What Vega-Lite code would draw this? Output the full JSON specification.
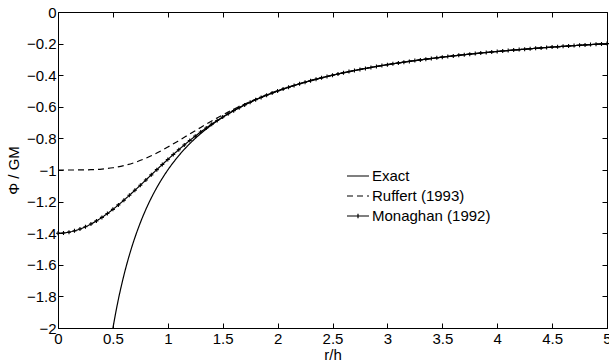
{
 "$schema": "https://vega.github.io/schema/vega-lite/v6.json",
 "width": 549, "height": 316,
 "autosize": "none",
 "padding": {"left": 58, "top": 12, "right": 2, "bottom": 35},
 "background": "white",
 "config": {
  "font": "Liberation Sans",
  "view": {"stroke": "black", "strokeWidth": 1},
  "axis": {"domainColor": "black", "tickColor": "black", "labelColor": "black", "titleColor": "black", "labelFontSize": 15, "titleFontSize": 15, "titleFontWeight": "normal", "grid": false, "tickSize": -5, "domainWidth": 1, "tickWidth": 1}
 },
 "datasets": {
  "curves": [
   {"series":"Exact","r":0.5,"phi":-2},{"series":"Exact","r":0.55,"phi":-1.81818},{"series":"Exact","r":0.6,"phi":-1.66667},{"series":"Exact","r":0.65,"phi":-1.53846},{"series":"Exact","r":0.7,"phi":-1.42857},{"series":"Exact","r":0.75,"phi":-1.33333},{"series":"Exact","r":0.8,"phi":-1.25},{"series":"Exact","r":0.85,"phi":-1.17647},{"series":"Exact","r":0.9,"phi":-1.11111},{"series":"Exact","r":0.95,"phi":-1.05263},{"series":"Exact","r":1.0,"phi":-1},{"series":"Exact","r":1.1,"phi":-0.90909},{"series":"Exact","r":1.2,"phi":-0.83333},{"series":"Exact","r":1.3,"phi":-0.76923},{"series":"Exact","r":1.4,"phi":-0.71429},{"series":"Exact","r":1.5,"phi":-0.66667},{"series":"Exact","r":1.6,"phi":-0.625},{"series":"Exact","r":1.7,"phi":-0.58824},{"series":"Exact","r":1.8,"phi":-0.55556},{"series":"Exact","r":1.9,"phi":-0.52632},{"series":"Exact","r":2.0,"phi":-0.5},{"series":"Exact","r":2.25,"phi":-0.44444},{"series":"Exact","r":2.5,"phi":-0.4},{"series":"Exact","r":2.75,"phi":-0.36364},{"series":"Exact","r":3.0,"phi":-0.33333},{"series":"Exact","r":3.25,"phi":-0.30769},{"series":"Exact","r":3.5,"phi":-0.28571},{"series":"Exact","r":3.75,"phi":-0.26667},{"series":"Exact","r":4.0,"phi":-0.25},{"series":"Exact","r":4.25,"phi":-0.23529},{"series":"Exact","r":4.5,"phi":-0.22222},{"series":"Exact","r":4.75,"phi":-0.21053},{"series":"Exact","r":5.0,"phi":-0.2},
   {"series":"Ruffert (1993)","r":0,"phi":-1},{"series":"Ruffert (1993)","r":0.1,"phi":-0.99998},{"series":"Ruffert (1993)","r":0.2,"phi":-0.99961},{"series":"Ruffert (1993)","r":0.3,"phi":-0.99804},{"series":"Ruffert (1993)","r":0.4,"phi":-0.99398},{"series":"Ruffert (1993)","r":0.5,"phi":-0.9859},{"series":"Ruffert (1993)","r":0.6,"phi":-0.97235},{"series":"Ruffert (1993)","r":0.7,"phi":-0.95233},{"series":"Ruffert (1993)","r":0.8,"phi":-0.92557},{"series":"Ruffert (1993)","r":0.9,"phi":-0.8927},{"series":"Ruffert (1993)","r":1.0,"phi":-0.85502},{"series":"Ruffert (1993)","r":1.1,"phi":-0.81428},{"series":"Ruffert (1993)","r":1.2,"phi":-0.77222},{"series":"Ruffert (1993)","r":1.3,"phi":-0.73039},{"series":"Ruffert (1993)","r":1.4,"phi":-0.68992},{"series":"Ruffert (1993)","r":1.5,"phi":-0.65158},{"series":"Ruffert (1993)","r":1.6,"phi":-0.61577},{"series":"Ruffert (1993)","r":1.7,"phi":-0.58266},{"series":"Ruffert (1993)","r":1.8,"phi":-0.55223},{"series":"Ruffert (1993)","r":1.9,"phi":-0.52436},{"series":"Ruffert (1993)","r":2.0,"phi":-0.49886},{"series":"Ruffert (1993)","r":2.2,"phi":-0.45418},{"series":"Ruffert (1993)","r":2.5,"phi":-0.39994},{"series":"Ruffert (1993)","r":2.75,"phi":-0.36364},{"series":"Ruffert (1993)","r":3.0,"phi":-0.33333},{"series":"Ruffert (1993)","r":3.5,"phi":-0.28571},{"series":"Ruffert (1993)","r":4.0,"phi":-0.25},{"series":"Ruffert (1993)","r":4.5,"phi":-0.22222},{"series":"Ruffert (1993)","r":5.0,"phi":-0.2},
   {"series":"Monaghan (1992)","r":0,"phi":-1.4},{"series":"Monaghan (1992)","r":0.05,"phi":-1.39834},{"series":"Monaghan (1992)","r":0.1,"phi":-1.39336},{"series":"Monaghan (1992)","r":0.15,"phi":-1.38514},{"series":"Monaghan (1992)","r":0.2,"phi":-1.37378},{"series":"Monaghan (1992)","r":0.25,"phi":-1.35941},{"series":"Monaghan (1992)","r":0.3,"phi":-1.34219},{"series":"Monaghan (1992)","r":0.35,"phi":-1.32231},{"series":"Monaghan (1992)","r":0.4,"phi":-1.29999},{"series":"Monaghan (1992)","r":0.45,"phi":-1.27546},{"series":"Monaghan (1992)","r":0.5,"phi":-1.24896},{"series":"Monaghan (1992)","r":0.55,"phi":-1.22075},{"series":"Monaghan (1992)","r":0.6,"phi":-1.1911},{"series":"Monaghan (1992)","r":0.65,"phi":-1.16028},{"series":"Monaghan (1992)","r":0.7,"phi":-1.12856},{"series":"Monaghan (1992)","r":0.75,"phi":-1.09619},{"series":"Monaghan (1992)","r":0.8,"phi":-1.06345},{"series":"Monaghan (1992)","r":0.85,"phi":-1.03057},{"series":"Monaghan (1992)","r":0.9,"phi":-0.99778},{"series":"Monaghan (1992)","r":0.95,"phi":-0.96531},{"series":"Monaghan (1992)","r":1.0,"phi":-0.93333},{"series":"Monaghan (1992)","r":1.05,"phi":-0.90202},{"series":"Monaghan (1992)","r":1.1,"phi":-0.87151},{"series":"Monaghan (1992)","r":1.15,"phi":-0.84191},{"series":"Monaghan (1992)","r":1.2,"phi":-0.81331},{"series":"Monaghan (1992)","r":1.25,"phi":-0.78576},{"series":"Monaghan (1992)","r":1.3,"phi":-0.75932},{"series":"Monaghan (1992)","r":1.35,"phi":-0.73401},{"series":"Monaghan (1992)","r":1.4,"phi":-0.70984},{"series":"Monaghan (1992)","r":1.45,"phi":-0.68682},{"series":"Monaghan (1992)","r":1.5,"phi":-0.66493},{"series":"Monaghan (1992)","r":1.55,"phi":-0.64415},{"series":"Monaghan (1992)","r":1.6,"phi":-0.62445},{"series":"Monaghan (1992)","r":1.65,"phi":-0.60578},{"series":"Monaghan (1992)","r":1.7,"phi":-0.58811},{"series":"Monaghan (1992)","r":1.75,"phi":-0.57138},{"series":"Monaghan (1992)","r":1.8,"phi":-0.55554},{"series":"Monaghan (1992)","r":1.85,"phi":-0.54054},{"series":"Monaghan (1992)","r":1.9,"phi":-0.52632},{"series":"Monaghan (1992)","r":1.95,"phi":-0.51282},{"series":"Monaghan (1992)","r":2.0,"phi":-0.5},{"series":"Monaghan (1992)","r":2.05,"phi":-0.487805},{"series":"Monaghan (1992)","r":2.1,"phi":-0.47619},{"series":"Monaghan (1992)","r":2.15,"phi":-0.465116},{"series":"Monaghan (1992)","r":2.2,"phi":-0.454545},{"series":"Monaghan (1992)","r":2.25,"phi":-0.444444},{"series":"Monaghan (1992)","r":2.3,"phi":-0.434783},{"series":"Monaghan (1992)","r":2.35,"phi":-0.425532},{"series":"Monaghan (1992)","r":2.4,"phi":-0.416667},{"series":"Monaghan (1992)","r":2.45,"phi":-0.408163},{"series":"Monaghan (1992)","r":2.5,"phi":-0.4},{"series":"Monaghan (1992)","r":2.55,"phi":-0.392157},{"series":"Monaghan (1992)","r":2.6,"phi":-0.384615},{"series":"Monaghan (1992)","r":2.65,"phi":-0.377358},{"series":"Monaghan (1992)","r":2.7,"phi":-0.37037},{"series":"Monaghan (1992)","r":2.75,"phi":-0.363636},{"series":"Monaghan (1992)","r":2.8,"phi":-0.357143},{"series":"Monaghan (1992)","r":2.85,"phi":-0.350877},{"series":"Monaghan (1992)","r":2.9,"phi":-0.344828},{"series":"Monaghan (1992)","r":2.95,"phi":-0.338983},{"series":"Monaghan (1992)","r":3.0,"phi":-0.333333},{"series":"Monaghan (1992)","r":3.05,"phi":-0.327869},{"series":"Monaghan (1992)","r":3.1,"phi":-0.322581},{"series":"Monaghan (1992)","r":3.15,"phi":-0.31746},{"series":"Monaghan (1992)","r":3.2,"phi":-0.3125},{"series":"Monaghan (1992)","r":3.25,"phi":-0.307692},{"series":"Monaghan (1992)","r":3.3,"phi":-0.30303},{"series":"Monaghan (1992)","r":3.35,"phi":-0.298507},{"series":"Monaghan (1992)","r":3.4,"phi":-0.294118},{"series":"Monaghan (1992)","r":3.45,"phi":-0.289855},{"series":"Monaghan (1992)","r":3.5,"phi":-0.285714},{"series":"Monaghan (1992)","r":3.55,"phi":-0.28169},{"series":"Monaghan (1992)","r":3.6,"phi":-0.277778},{"series":"Monaghan (1992)","r":3.65,"phi":-0.273973},{"series":"Monaghan (1992)","r":3.7,"phi":-0.27027},{"series":"Monaghan (1992)","r":3.75,"phi":-0.266667},{"series":"Monaghan (1992)","r":3.8,"phi":-0.263158},{"series":"Monaghan (1992)","r":3.85,"phi":-0.25974},{"series":"Monaghan (1992)","r":3.9,"phi":-0.25641},{"series":"Monaghan (1992)","r":3.95,"phi":-0.253165},{"series":"Monaghan (1992)","r":4.0,"phi":-0.25},{"series":"Monaghan (1992)","r":4.05,"phi":-0.246914},{"series":"Monaghan (1992)","r":4.1,"phi":-0.243902},{"series":"Monaghan (1992)","r":4.15,"phi":-0.240964},{"series":"Monaghan (1992)","r":4.2,"phi":-0.238095},{"series":"Monaghan (1992)","r":4.25,"phi":-0.235294},{"series":"Monaghan (1992)","r":4.3,"phi":-0.232558},{"series":"Monaghan (1992)","r":4.35,"phi":-0.229885},{"series":"Monaghan (1992)","r":4.4,"phi":-0.227273},{"series":"Monaghan (1992)","r":4.45,"phi":-0.224719},{"series":"Monaghan (1992)","r":4.5,"phi":-0.222222},{"series":"Monaghan (1992)","r":4.55,"phi":-0.21978},{"series":"Monaghan (1992)","r":4.6,"phi":-0.217391},{"series":"Monaghan (1992)","r":4.65,"phi":-0.215054},{"series":"Monaghan (1992)","r":4.7,"phi":-0.212766},{"series":"Monaghan (1992)","r":4.75,"phi":-0.210526},{"series":"Monaghan (1992)","r":4.8,"phi":-0.208333},{"series":"Monaghan (1992)","r":4.85,"phi":-0.206186},{"series":"Monaghan (1992)","r":4.9,"phi":-0.204082},{"series":"Monaghan (1992)","r":4.95,"phi":-0.20202},{"series":"Monaghan (1992)","r":5.0,"phi":-0.2}
  ]
 },
 "data": {"name": "curves"},
 "resolve": {"axis": {"x": "independent", "y": "independent"}},
 "layer": [
  {
   "mark": {"type": "line", "interpolate": "monotone", "strokeWidth": 1.2, "color": "black", "clip": true},
   "encoding": {
    "x": {"field": "r", "type": "quantitative", "scale": {"domain": [0, 5], "nice": false, "zero": false},
      "axis": {"title": "r/h", "values": [0,0.5,1,1.5,2,2.5,3,3.5,4,4.5,5], "format": "~g", "labelPadding": 8, "titlePadding": 1, "labelFlush": false}},
    "y": {"field": "phi", "type": "quantitative", "scale": {"domain": [-2, 0], "nice": false, "zero": false},
      "axis": {"title": "Φ / GM", "values": [-2,-1.8,-1.6,-1.4,-1.2,-1,-0.8,-0.6,-0.4,-0.2,0], "format": "~g", "labelPadding": 7, "titlePadding": 5, "labelFlush": false}},
    "strokeDash": {"field": "series", "type": "nominal",
      "scale": {"domain": ["Exact", "Ruffert (1993)", "Monaghan (1992)"], "range": [[1, 0], [6, 4], [1, 0]]},
      "legend": {"title": null, "orient": "none", "legendX": 288, "legendY": 152, "symbolType": "stroke", "symbolSize": 484, "symbolStrokeWidth": 1.2, "symbolStrokeColor": "black", "labelFontSize": 15, "labelColor": "black", "labelOffset": 2, "rowPadding": 0, "padding": 0,
        "encode": {"symbols": {"update": {"shape": {"signal": "datum.value === 'Monaghan (1992)' ? 'M-1,0H1M0,-0.2V0.2' : 'stroke'"}}}}}}
   }
  },
  {
   "transform": [{"filter": "datum.series == 'Monaghan (1992)'"}],
   "mark": {"type": "point", "shape": "M-1,0H1M0,-1V1", "size": 16, "filled": false, "stroke": "black", "strokeWidth": 1.1, "opacity": 1},
   "encoding": {
    "x": {"field": "r", "type": "quantitative", "scale": {"domain": [0, 5], "nice": false, "zero": false},
      "axis": {"orient": "top", "labels": false, "title": null, "values": [0,0.5,1,1.5,2,2.5,3,3.5,4,4.5,5], "domain": false}},
    "y": {"field": "phi", "type": "quantitative", "scale": {"domain": [-2, 0], "nice": false, "zero": false},
      "axis": {"orient": "right", "labels": false, "title": null, "values": [-2,-1.8,-1.6,-1.4,-1.2,-1,-0.8,-0.6,-0.4,-0.2,0], "domain": false}}
   }
  }
 ]
}
